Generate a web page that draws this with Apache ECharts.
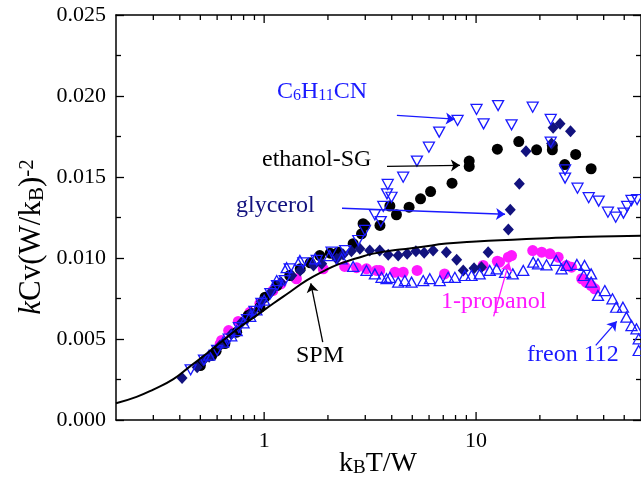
<!DOCTYPE html>
<html>
<head>
<meta charset="utf-8">
<script src="https://cdn.jsdelivr.net/npm/echarts@6/dist/echarts.min.js"></script>
<style>
  html, body { margin: 0; padding: 0; background: #fff; }
  #chart { width: 641px; height: 489px; }
</style>
</head>
<body>
<div id="chart"></div>
<script>
// SPM model curve
const spmX = [0.2, 0.25, 0.3, 0.373, 0.447, 0.536, 0.641, 0.769, 0.922, 1.104, 1.323, 1.587, 1.9, 2.28, 2.73, 3.27, 4.37, 5.5, 7.24, 10, 14.9, 20, 30.7, 45, 60]
const spmY = [0.00103, 0.00143, 0.00188, 0.00252, 0.00331, 0.0041, 0.00492, 0.00574, 0.00646, 0.00719, 0.0079, 0.00862, 0.00918, 0.00965, 0.00998, 0.01027, 0.01052, 0.01068, 0.01089, 0.01102, 0.01113, 0.0112, 0.0113, 0.01134, 0.01137]

// ethanol-SG (black dots)
const ethanolX = [0.50, 0.566, 0.593, 0.653, 0.742, 0.841, 0.873, 0.955, 1.01, 1.15, 1.32, 1.48, 1.65, 1.83, 2.05, 2.24, 2.63, 2.88, 2.93, 2.99, 3.52, 3.92, 4.21, 4.83, 5.47, 6.1, 7.7, 9.28, 9.28, 12.6, 15.9, 19.3, 22.9, 22.9, 26.2, 29.5, 34.9]
const ethanolY = [0.00336, 0.00398, 0.00425, 0.00472, 0.00542, 0.00645, 0.00656, 0.00696, 0.00758, 0.0083, 0.00892, 0.00933, 0.0097, 0.01015, 0.0103, 0.01036, 0.01088, 0.01149, 0.01212, 0.01201, 0.01201, 0.01321, 0.01267, 0.01314, 0.01365, 0.0141, 0.01462, 0.01598, 0.01565, 0.01672, 0.01719, 0.01668, 0.01668, 0.01694, 0.01577, 0.01639, 0.01551]

// 1-propanol (magenta dots)
const propanolX = [0.62, 0.63, 0.68, 0.755, 0.857, 0.955, 1.10, 1.2, 1.42, 1.9, 2.4, 2.73, 3.04, 3.39, 3.51, 4.14, 4.53, 5.27, 7.1, 10.8, 12.6, 12.9, 14.2, 14.7, 18.5, 20.4, 22.3, 24.4, 26.7, 28.2, 31.5, 33.0, 34.9, 36.3]
const propanolY = [0.0047, 0.00491, 0.00552, 0.00608, 0.00665, 0.0072, 0.00799, 0.0084, 0.00872, 0.00933, 0.00948, 0.0094, 0.00933, 0.00923, 0.00923, 0.00912, 0.00912, 0.00923, 0.00902, 0.00954, 0.0098, 0.00974, 0.01005, 0.01015, 0.01046, 0.01036, 0.01026, 0.01005, 0.00954, 0.00943, 0.00872, 0.00851, 0.0083, 0.0081]

// glycerol (navy diamonds)
const glycerolX = [0.41, 0.483, 0.516, 0.55, 0.62, 0.70, 0.78, 0.87, 0.97, 1.08, 1.2, 1.35, 1.48, 1.71, 1.87, 2.2, 2.36, 2.58, 2.83, 3.15, 3.51, 3.85, 4.29, 4.73, 5.2, 5.69, 6.27, 7.24, 8.1, 8.7, 9.78, 10.6, 11.4, 14.2, 14.5, 16.0, 17.2, 22.7, 23.1, 24.9, 27.9]
const glycerolY = [0.00259, 0.00326, 0.00367, 0.0039, 0.0046, 0.0053, 0.006, 0.0066, 0.0073, 0.0079, 0.0085, 0.00892, 0.00923, 0.00954, 0.00964, 0.00995, 0.01022, 0.01042, 0.01057, 0.01046, 0.01046, 0.0102, 0.01015, 0.01026, 0.01042, 0.01032, 0.01046, 0.01036, 0.00989, 0.00923, 0.00937, 0.00943, 0.01036, 0.01176, 0.01298, 0.01458, 0.01659, 0.01707, 0.01804, 0.01828, 0.01783]

// freon 112 (open up triangles)
const freonX = [0.55, 0.64, 0.70, 0.742, 0.80, 0.86, 0.92, 1.0, 1.146, 1.277, 1.475, 1.74, 2.04, 2.32, 2.63, 3.04, 3.33, 3.58, 3.78, 3.92, 4.29, 4.61, 4.96, 5.63, 6.05, 6.74, 7.38, 7.94, 8.85, 9.52, 10.4, 11.6, 12.5, 13.7, 14.9, 16.7, 18.6, 19.6, 21.5, 23.9, 25.3, 26.7, 29.9, 32.5, 32.2, 34.9, 34.9, 37.6, 40.5, 44.0, 45.8, 49.3, 51.2, 54.1, 57.1, 58.5, 58.5]
const freonY = [0.004, 0.0048, 0.0052, 0.00552, 0.006, 0.0064, 0.0068, 0.0074, 0.00861, 0.0094, 0.00985, 0.00995, 0.01015, 0.00995, 0.00948, 0.00923, 0.00902, 0.00881, 0.00872, 0.00881, 0.00851, 0.00861, 0.00851, 0.00861, 0.00872, 0.00861, 0.00881, 0.00881, 0.00892, 0.00892, 0.00902, 0.00923, 0.00933, 0.00912, 0.00902, 0.00923, 0.00974, 0.00964, 0.00958, 0.00985, 0.00933, 0.00954, 0.0096, 0.00954, 0.00892, 0.00902, 0.00851, 0.00769, 0.00799, 0.00748, 0.00696, 0.00696, 0.00635, 0.00583, 0.00563, 0.00501, 0.00429]

// C6H11CN (open down triangles)
const cyanideX = [0.45, 0.52, 0.6, 0.68, 0.76, 0.83, 0.9, 0.97, 1.07, 1.15, 1.25, 1.32, 1.53, 1.77, 2.08, 2.41, 2.78, 2.99, 3.33, 3.55, 3.65, 3.8, 3.83, 3.99, 4.53, 5.26, 5.99, 6.7, 8.18, 10.05, 10.85, 12.7, 14.7, 18.5, 22.5, 22.5, 26.3, 26.3, 30.1, 34.0, 37.9, 41.9, 45.6, 49.6, 51.6, 54.1, 57.5]
const cyanideY = [0.0031, 0.0037, 0.0043, 0.005, 0.0057, 0.0062, 0.0067, 0.0072, 0.0078, 0.0083, 0.00861, 0.00933, 0.0097, 0.00985, 0.01036, 0.01046, 0.01108, 0.0117, 0.01267, 0.01225, 0.01318, 0.01396, 0.01454, 0.01375, 0.01499, 0.01598, 0.01684, 0.01777, 0.01849, 0.01917, 0.01828, 0.01941, 0.01822, 0.01931, 0.01855, 0.01715, 0.01544, 0.01493, 0.01431, 0.01372, 0.01351, 0.01283, 0.01252, 0.01277, 0.01318, 0.01355, 0.01361]

// ticks of the log axis (majors get labels)
const xMajorTicks = [1, 10]
const xMinorTicks = [0.3, 0.4, 0.5, 0.6, 0.7, 0.8, 0.9, 2, 3, 4, 5, 6, 7, 8, 9, 20, 30, 40, 50]

const BLUE = '#1a1aff'
const NAVY = '#12127e'
const MAGENTA = '#ff19ff'
const SERIF = '"Liberation Serif", "Times New Roman", serif'
const Y_MIN = 0
const Y_MAX = 0.025

// annotation arrows [from, to, colour]
const arrows = [
  [[4.23, 0.01881], [7.94, 0.01857], BLUE],
  [[3.8, 0.01566], [8.39, 0.01572], '#000'],
  [[2.33, 0.01307], [13.7, 0.0127], BLUE],
  [[1.89, 0.0048], [1.66, 0.00844], '#000'],
  [[12.1, 0.0064], [14.3, 0.00973], MAGENTA],
  [[36.7, 0.00461], [46.1, 0.00609], BLUE]
]

const pairs = (xs, ys) => xs.map((x, i) => [x, ys[i]])

const chart = echarts.init(document.getElementById('chart'), null, { renderer: 'canvas' })

const axisLine = { show: true, onZero: false, lineStyle: { color: '#000', width: 1.5 } }
const majorTick = { inside: true, length: 8, lineStyle: { color: '#000', width: 1.3 } }
const minorTick = { show: true, splitNumber: 2, length: 5, lineStyle: { color: '#000', width: 1.3 } }

// x ticks on bottom and top edge, placed through the log scale: [value, y edge, length]
const xTickData = []
xMinorTicks.forEach(v => {
  xTickData.push([v, Y_MIN, 5])
  xTickData.push([v, Y_MAX, 5])
})
xMajorTicks.forEach(v => {
  xTickData.push([v, Y_MIN, 8])
  xTickData.push([v, Y_MAX, 8])
})

const option = {
  animation: false,
  backgroundColor: '#fff',
  grid: { left: 116, top: 15, width: 525, height: 405 },
  xAxis: [
    {
      type: 'log', min: 0.2, max: 60, position: 'bottom',
      axisLine: axisLine,
      axisTick: { show: false },
      axisLabel: {
        showMinLabel: false, showMaxLabel: false, margin: 10,
        color: '#000', fontSize: 22, fontFamily: SERIF,
        formatter: v => String(v)
      },
      splitLine: { show: false }
    },
    {
      type: 'log', min: 0.2, max: 60, position: 'top',
      axisLine: axisLine,
      axisTick: { show: false },
      axisLabel: { show: false },
      splitLine: { show: false }
    }
  ],
  yAxis: [
    {
      type: 'value', min: Y_MIN, max: Y_MAX, interval: 0.005, position: 'left',
      axisLine: axisLine,
      axisTick: majorTick,
      minorTick: minorTick,
      axisLabel: {
        margin: 10, color: '#000', fontSize: 22, fontFamily: SERIF,
        formatter: v => v.toFixed(3)
      },
      splitLine: { show: false }
    },
    {
      type: 'value', min: Y_MIN, max: Y_MAX, interval: 0.005, position: 'right',
      axisLine: axisLine,
      axisTick: majorTick,
      minorTick: minorTick,
      axisLabel: { show: false },
      splitLine: { show: false }
    }
  ],
  series: [
    {
      name: 'ticks',
      type: 'custom',
      clip: false,
      zlevel: 1,
      z: 100,
      data: xTickData,
      renderItem: (params, api) => {
        const p = api.coord([api.value(0), api.value(1)])
        const dir = api.value(1) === Y_MIN ? -1 : 1
        return {
          type: 'line',
          shape: { x1: p[0], y1: p[1], x2: p[0], y2: p[1] + dir * api.value(2) },
          style: { stroke: '#000', lineWidth: 1.3 }
        }
      }
    },
    {
      name: '1-propanol', type: 'scatter', symbol: 'circle', symbolSize: 11,
      itemStyle: { color: MAGENTA, opacity: 1 },
      data: pairs(propanolX, propanolY)
    },
    {
      name: 'ethanol-SG', type: 'scatter', symbol: 'circle', symbolSize: 11,
      itemStyle: { color: '#000', opacity: 1 },
      data: pairs(ethanolX, ethanolY)
    },
    {
      name: 'glycerol', type: 'scatter', symbol: 'diamond', symbolSize: [11, 12],
      itemStyle: { color: NAVY, opacity: 1 },
      data: pairs(glycerolX, glycerolY)
    },
    {
      name: 'freon 112', type: 'scatter', symbol: 'triangle', symbolSize: [11, 10],
      itemStyle: { color: 'rgba(0,0,0,0)', borderColor: BLUE, borderWidth: 1.3, opacity: 1 },
      data: pairs(freonX, freonY)
    },
    {
      name: 'C6H11CN', type: 'scatter', symbol: 'triangle', symbolRotate: 180, symbolSize: [11, 10],
      itemStyle: { color: 'rgba(0,0,0,0)', borderColor: BLUE, borderWidth: 1.3, opacity: 1 },
      data: pairs(cyanideX, cyanideY)
    },
    {
      name: 'SPM', type: 'line', smooth: true, symbol: 'none',
      lineStyle: { color: '#000', width: 2 },
      data: pairs(spmX, spmY),
      z: 4,
      markLine: {
        silent: true,
        symbol: ['none', 'arrow'],
        symbolSize: 9,
        label: { show: false },
        data: arrows.map(a => [
          { coord: a[0], lineStyle: { color: a[2], width: 1.3, type: 'solid' }, itemStyle: { color: a[2] } },
          { coord: a[1] }
        ])
      }
    }
  ],
  graphic: [
    {
      type: 'text', x: 277, y: 92,
      style: {
        text: 'C{sub|6}H{sub|11}CN', fill: BLUE, fontSize: 24, fontFamily: SERIF,
        align: 'left', verticalAlign: 'middle',
        rich: { sub: { fontSize: 16, fontFamily: SERIF, fill: BLUE, lineHeight: 8, verticalAlign: 'bottom' } },
        lineHeight: 24
      }
    },
    {
      type: 'text', x: 262, y: 160,
      style: { text: 'ethanol-SG', fill: '#000', fontSize: 24, fontFamily: SERIF, align: 'left', verticalAlign: 'middle' }
    },
    {
      type: 'text', x: 236, y: 206,
      style: { text: 'glycerol', fill: NAVY, fontSize: 24, fontFamily: SERIF, align: 'left', verticalAlign: 'middle' }
    },
    {
      type: 'text', x: 296, y: 356,
      style: { text: 'SPM', fill: '#000', fontSize: 24, fontFamily: SERIF, align: 'left', verticalAlign: 'middle' }
    },
    {
      type: 'text', x: 441, y: 302,
      style: { text: '1-propanol', fill: MAGENTA, fontSize: 24, fontFamily: SERIF, align: 'left', verticalAlign: 'middle' }
    },
    {
      type: 'text', x: 527, y: 355,
      style: { text: 'freon 112', fill: BLUE, fontSize: 24, fontFamily: SERIF, align: 'left', verticalAlign: 'middle' }
    },
    {
      // x axis title
      type: 'text', x: 378, y: 464,
      style: {
        text: 'k{sub|B}T/W', fill: '#000', fontSize: 28, fontFamily: SERIF,
        align: 'center', verticalAlign: 'middle', lineHeight: 28,
        rich: { sub: { fontSize: 19, fontFamily: SERIF, fill: '#000', lineHeight: 8, verticalAlign: 'bottom' } }
      }
    },
    {
      // y axis title
      type: 'text', x: 32, y: 237, rotation: Math.PI / 2,
      style: {
        text: '{it|k}Cv(W/k{sub|B}){sup|-2}', fill: '#000', fontSize: 31, fontFamily: SERIF,
        align: 'center', verticalAlign: 'middle', lineHeight: 31,
        rich: {
          it: { fontSize: 31, fontFamily: SERIF, fontStyle: 'italic', fill: '#000', lineHeight: 31 },
          sub: { fontSize: 21, fontFamily: SERIF, fill: '#000', lineHeight: 8, verticalAlign: 'bottom' },
          sup: { fontSize: 21, fontFamily: SERIF, fill: '#000', lineHeight: 8, verticalAlign: 'top' }
        }
      }
    }
  ]
}

chart.setOption(option)
</script>
</body>
</html>
